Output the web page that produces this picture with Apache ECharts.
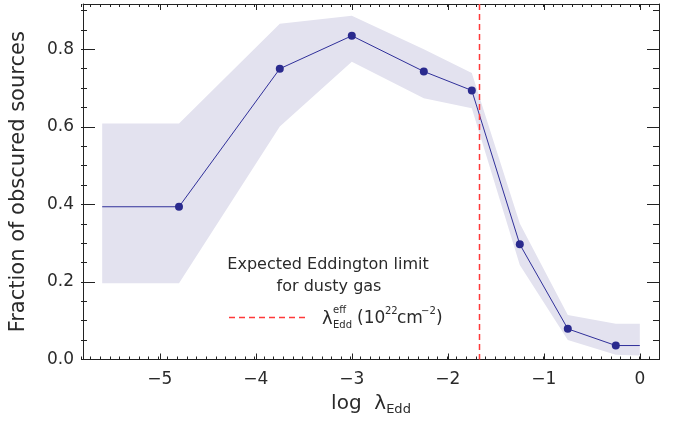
<!DOCTYPE html>
<html><head><meta charset="utf-8">
<script src="https://cdn.jsdelivr.net/npm/echarts@6/dist/echarts.min.js"></script>
<style>html,body{margin:0;padding:0;background:#fff}#c{width:676px;height:423px}</style>
</head><body><div id="c"></div>
<script>
// ---- data ----
const xPoints  = [-4.8, -3.75, -3.0, -2.25, -1.75, -1.25, -0.75, -0.25];
const fraction = [0.394, 0.750, 0.835, 0.743, 0.694, 0.297, 0.079, 0.036];
const lineX    = [-5.6, -4.8, -3.75, -3.0, -2.25, -1.75, -1.25, -0.75, -0.25, 0.0];
const lineY    = [0.394, 0.394, 0.750, 0.835, 0.743, 0.694, 0.297, 0.079, 0.036, 0.036];
const bandX     = [-5.6, -4.8, -3.75, -3.0, -2.25, -1.75, -1.25, -0.75, -0.25, 0.0];
const bandUpper = [0.609, 0.609, 0.866, 0.887, 0.800, 0.739, 0.351, 0.115, 0.092, 0.092];
const bandLower = [0.197, 0.197, 0.601, 0.768, 0.674, 0.648, 0.244, 0.050, 0.012, 0.010];
const eddLimit = -1.67;
const xTicks = [-5, -4, -3, -2, -1, 0];
const yTicks = [0.0, 0.2, 0.4, 0.6, 0.8];
const xRange = [-5.8, 0.2];
const yRange = [0, 0.917];

// minor tick positions
const xMinor = []; for (let i = -58; i <= 2; i++) xMinor.push(i / 10);
const yMinor = []; for (let i = 0; i <= 18; i++) yMinor.push(i / 20);

const FONT = 'DejaVu Sans';
const TXT = '#2a2a2a';
const AX = '#222';
const RED = '#ff3a3a';

const chart = echarts.init(document.getElementById('c'), null, {renderer: 'canvas'});

const gridRect = {left: 81, right: 17, top: 4, bottom: 63.5, containLabel: false};

function xAx(grid, pos, ticks, len, major) {
  return {
    type: 'value', gridIndex: grid, position: pos, min: xRange[0], max: xRange[1],
    axisLine: {show: major, onZero: false, lineStyle: {color: AX, width: 1}},
    axisTick: {show: true, inside: true, length: len, customValues: ticks, lineStyle: {color: AX, width: 1}},
    axisLabel: {show: false}, splitLine: {show: false}
  };
}
function yAx(grid, pos, ticks, len, major) {
  return {
    type: 'value', gridIndex: grid, position: pos, min: yRange[0], max: yRange[1],
    axisLine: {show: major, onZero: false, lineStyle: {color: AX, width: 1}},
    axisTick: {show: true, inside: true, length: len, customValues: ticks, lineStyle: {color: AX, width: 1}},
    axisLabel: {show: false}, splitLine: {show: false}
  };
}

const xBottom = xAx(0, 'bottom', xTicks, 6, true);
xBottom.axisLabel = {
  show: true, customValues: xTicks, margin: 12, fontFamily: FONT, fontSize: 17, color: TXT,
  formatter: v => (v < 0 ? '\u2212' + Math.abs(v) : String(v))
};
xBottom.name = 'log  \u03bb{sub|Edd}';
xBottom.nameLocation = 'middle';
xBottom.nameGap = 30;
xBottom.nameTextStyle = {fontFamily: FONT, fontSize: 20, color: TXT,
  rich: {sub: {fontFamily: FONT, fontSize: 13, color: TXT, verticalAlign: 'bottom', padding: [12, 0, 0, 0]}}};

const yLeft = yAx(0, 'left', yTicks, 12, true);
yLeft.axisLabel = {
  show: true, customValues: yTicks, margin: 9, fontFamily: FONT, fontSize: 17, color: TXT,
  formatter: v => v.toFixed(1)
};
yLeft.name = 'Fraction of obscured sources';
yLeft.nameLocation = 'middle';
yLeft.nameGap = 54;
yLeft.nameTextStyle = {fontFamily: FONT, fontSize: 21, color: TXT};

const option = {
  animation: false,
  grid: [Object.assign({}, gridRect), Object.assign({}, gridRect)],
  xAxis: [
    xBottom,
    xAx(0, 'top', xTicks, 6, true),
    xAx(1, 'bottom', xMinor, 3, false),
    xAx(1, 'top', xMinor, 3, false)
  ],
  yAxis: [
    yLeft,
    yAx(0, 'right', yTicks, 12, true),
    yAx(1, 'left', yMinor, 6, false),
    yAx(1, 'right', yMinor, 6, false)
  ],
  series: [
    {
      type: 'custom', xAxisIndex: 0, yAxisIndex: 0, z: 1, silent: true,
      data: [0],
      renderItem: function (params, api) {
        const pts = [];
        for (let i = 0; i < bandX.length; i++) pts.push(api.coord([bandX[i], bandUpper[i]]));
        for (let i = bandX.length - 1; i >= 0; i--) pts.push(api.coord([bandX[i], bandLower[i]]));
        return {type: 'polygon', shape: {points: pts}, style: {fill: '#e3e2ef', stroke: null}};
      }
    },
    {
      type: 'line', xAxisIndex: 0, yAxisIndex: 0, z: 3, showSymbol: false, silent: true,
      data: lineX.map((x, i) => [x, lineY[i]]),
      lineStyle: {color: '#30309a', width: 1}
    },
    {
      type: 'scatter', xAxisIndex: 0, yAxisIndex: 0, z: 4, silent: true,
      symbol: 'circle', symbolSize: 8,
      data: xPoints.map((x, i) => [x, fraction[i]]),
      itemStyle: {color: '#2a2a8e', opacity: 1}
    },
    {
      type: 'custom', xAxisIndex: 0, yAxisIndex: 0, z: 5, silent: true,
      data: [0],
      renderItem: function (params, api) {
        const p0 = api.coord([eddLimit, yRange[0]]);
        const p1 = api.coord([eddLimit, yRange[1]]);
        const x = Math.round(p0[0]) + 0.5;
        return {type: 'line', shape: {x1: x, y1: p1[1], x2: x, y2: p0[1]},
          style: {stroke: RED, fill: 'none', lineWidth: 1.5, lineDash: [6, 4], opacity: 1}};
      }
    }
  ],
  graphic: [
    {type: 'text', x: 328, y: 265, style: {text: 'Expected Eddington limit', fontFamily: FONT, fontSize: 16, fill: TXT, align: 'center', verticalAlign: 'middle'}},
    {type: 'text', x: 329, y: 287, style: {text: 'for dusty gas', fontFamily: FONT, fontSize: 16, fill: TXT, align: 'center', verticalAlign: 'middle'}},
    {type: 'line', shape: {x1: 229, y1: 317.5, x2: 308, y2: 317.5}, style: {stroke: RED, lineWidth: 1.3, lineDash: [6, 4]}},
    {type: 'text', x: 322, y: 319, style: {text: '\u03bb', fontFamily: FONT, fontSize: 18, fill: TXT, align: 'left', verticalAlign: 'middle'}},
    {type: 'text', x: 333, y: 310, style: {text: 'eff', fontFamily: FONT, fontSize: 10, fill: TXT, align: 'left', verticalAlign: 'middle'}},
    {type: 'text', x: 333, y: 325, style: {text: 'Edd', fontFamily: FONT, fontSize: 10, fill: TXT, align: 'left', verticalAlign: 'middle'}},
    {type: 'text', x: 357, y: 319, style: {text: '(10', fontFamily: FONT, fontSize: 17, fill: TXT, align: 'left', verticalAlign: 'middle'}},
    {type: 'text', x: 385, y: 311, style: {text: '22', fontFamily: FONT, fontSize: 10, fill: TXT, align: 'left', verticalAlign: 'middle'}},
    {type: 'text', x: 397, y: 319, style: {text: 'cm', fontFamily: FONT, fontSize: 17, fill: TXT, align: 'left', verticalAlign: 'middle'}},
    {type: 'text', x: 421, y: 311, style: {text: '\u22122', fontFamily: FONT, fontSize: 10, fill: TXT, align: 'left', verticalAlign: 'middle'}},
    {type: 'text', x: 436, y: 319, style: {text: ')', fontFamily: FONT, fontSize: 17, fill: TXT, align: 'left', verticalAlign: 'middle'}}
  ]
};
chart.setOption(option);
</script>
</body></html>
